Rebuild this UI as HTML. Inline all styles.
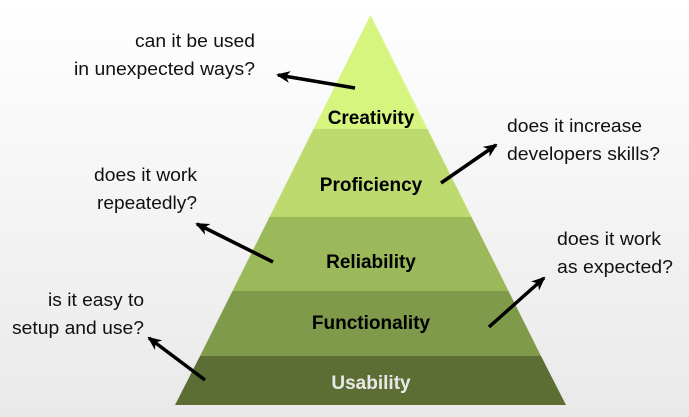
<!DOCTYPE html>
<html style="background:#e9e9e9"><head><style>
html,body{margin:0;padding:0}
body{width:689px;height:417px;overflow:hidden;background:linear-gradient(#ffffff,#e9e9e9);font-family:"Liberation Sans",sans-serif;}
</style></head><body>
<svg width="689" height="417" viewBox="0 0 689 417" style="display:block">
<defs>
<marker id="h" markerWidth="14" markerHeight="14" refX="12" refY="7" orient="auto" markerUnits="userSpaceOnUse"><path d="M0,1 L14,7 L0,13 L4,7 Z" fill="#000"/></marker></defs>
<polygon points="370.5,15 313.5,129 427.5,129" fill="#d5f57f"/>
<polygon points="313.5,129 427.5,129 471.5,217 269.5,217" fill="#bdda6f"/>
<polygon points="269.5,217 471.5,217 508.5,291 232.5,291" fill="#9bb85a"/>
<polygon points="232.5,291 508.5,291 541,356 200,356" fill="#7f9a4a"/>
<polygon points="200,356 541,356 566,405 175,405" fill="#5c6e34"/>
<g font-weight="bold" font-size="19" text-anchor="middle">
<text x="371" y="124">Creativity</text>
<text x="371" y="191">Proficiency</text>
<text x="371" y="268">Reliability</text>
<text x="371" y="329">Functionality</text>
<text x="371" y="389" fill="#e8e8e8">Usability</text>
</g>
<g stroke="#000" stroke-width="3.5" marker-end="url(#h)">
<line x1="355" y1="88" x2="278" y2="75"/>
<line x1="441" y1="183" x2="496" y2="145"/>
<line x1="273" y1="262" x2="197" y2="224"/>
<line x1="489" y1="327" x2="544" y2="278"/>
<line x1="205" y1="380" x2="149" y2="338"/>
</g>
<g font-size="18.5" fill="#111" lengthAdjust="spacingAndGlyphs">
<text x="135" y="47" textLength="120" lengthAdjust="spacingAndGlyphs">can it be used</text>
<text x="74" y="75" textLength="181" lengthAdjust="spacingAndGlyphs">in unexpected ways?</text>
<text x="507" y="132" textLength="135" lengthAdjust="spacingAndGlyphs">does it increase</text>
<text x="507" y="160" textLength="153" lengthAdjust="spacingAndGlyphs">developers skills?</text>
<text x="94" y="181" textLength="103" lengthAdjust="spacingAndGlyphs">does it work</text>
<text x="97" y="209" textLength="100" lengthAdjust="spacingAndGlyphs">repeatedly?</text>
<text x="557" y="245" textLength="104" lengthAdjust="spacingAndGlyphs">does it work</text>
<text x="557" y="273" textLength="116" lengthAdjust="spacingAndGlyphs">as expected?</text>
<text x="48" y="306" textLength="96" lengthAdjust="spacingAndGlyphs">is it easy to</text>
<text x="12" y="334" textLength="132" lengthAdjust="spacingAndGlyphs">setup and use?</text>
</g>
</svg>
</body></html>
